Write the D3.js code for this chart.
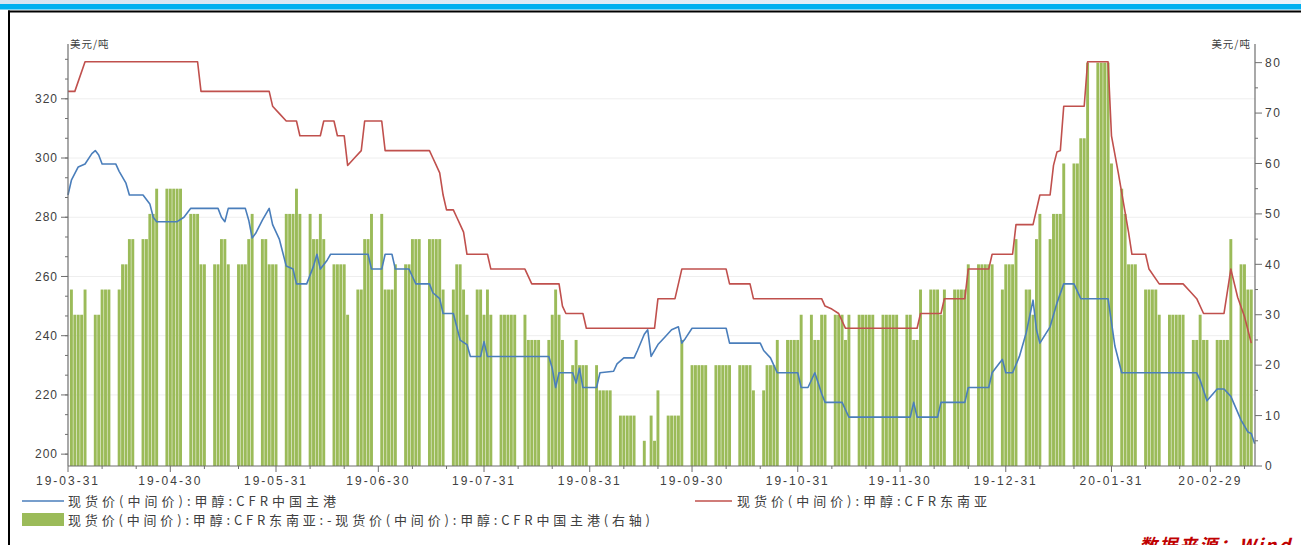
<!DOCTYPE html>
<html><head><meta charset="utf-8">
<script src="https://cdn.jsdelivr.net/npm/d3@7"></script>
<style>
html,body{margin:0;padding:0;background:#fff;}
svg{display:block;}
text{font-family:"Liberation Sans",Arial,sans-serif;}
.cjk{font-family:"Noto Sans CJK SC","Liberation Sans",sans-serif;}
</style></head>
<body>
<svg id="chart" width="1301" height="545"></svg>
<script>
// ---------------- data ----------------
const xTickLabels = ["19-03-31","19-04-30","19-05-31","19-06-30","19-07-31","19-08-31","19-09-30","19-10-31","19-11-30","19-12-31","20-01-31","20-02-29"];
const leftTicks = [200,220,240,260,280,300,320];
const rightTicks = [0,10,20,30,40,50,60,70,80];
const unitLabel = "美元/吨";
const seriesNames = ["现货价(中间价):甲醇:CFR中国主港","现货价(中间价):甲醇:CFR东南亚","现货价(中间价):甲醇:CFR东南亚:-现货价(中间价):甲醇:CFR中国主港(右轴)"];
const sourceText = "数据来源：Wind";

// CFR 东南亚 (red line), breakpoints
const redDates = ["2019-03-31","2019-04-02","2019-04-05","2019-05-08","2019-05-09","2019-05-29","2019-05-30","2019-06-01","2019-06-03","2019-06-06","2019-06-07","2019-06-13","2019-06-14","2019-06-17","2019-06-18","2019-06-20","2019-06-21","2019-06-23","2019-06-25","2019-06-26","2019-07-01","2019-07-02","2019-07-15","2019-07-16","2019-07-17","2019-07-18","2019-07-19","2019-07-20","2019-07-22","2019-07-23","2019-07-24","2019-07-25","2019-07-26","2019-08-01","2019-08-02","2019-08-12","2019-08-14","2019-08-22","2019-08-23","2019-08-24","2019-08-29","2019-08-30","2019-09-19","2019-09-20","2019-09-25","2019-09-27","2019-10-10","2019-10-11","2019-10-17","2019-10-18","2019-11-07","2019-11-08","2019-11-10","2019-11-12","2019-11-14","2019-12-05","2019-12-06","2019-12-12","2019-12-13","2019-12-19","2019-12-20","2019-12-26","2019-12-27","2020-01-02","2020-01-03","2020-01-08","2020-01-10","2020-01-13","2020-01-14","2020-01-15","2020-01-16","2020-01-17","2020-01-23","2020-01-24","2020-01-30","2020-01-31","2020-02-02","2020-02-05","2020-02-06","2020-02-10","2020-02-11","2020-02-14","2020-02-21","2020-02-23","2020-02-25","2020-02-27","2020-03-04","2020-03-06","2020-03-08","2020-03-10","2020-03-12"];
const redValues = [322.5,322.5,332.5,332.5,322.5,322.5,317.5,315,312.5,312.5,307.5,307.5,312.5,312.5,307.5,307.5,297.5,300,302.5,312.5,312.5,302.5,302.5,300,297.5,295,287.5,282.5,282.5,280,277.5,275,267.5,267.5,262.5,262.5,257.5,257.5,250,247.5,247.5,242.5,242.5,252.5,252.5,262.5,262.5,257.5,257.5,252.5,252.5,250,249,247.5,242.5,242.5,247.5,247.5,252.5,252.5,262.5,262.5,267.5,267.5,277.5,277.5,287.5,287.5,297.5,302,302.5,317.5,317.5,332.5,332.5,307.5,295,275,267.5,267.5,262.5,257.5,257.5,255,252.5,247.5,247.5,262.5,253,246.5,237.5];

// CFR 中国主港 (blue line), breakpoints
const blueDates = ["2019-03-31","2019-04-01","2019-04-03","2019-04-05","2019-04-07","2019-04-08","2019-04-09","2019-04-10","2019-04-14","2019-04-15","2019-04-17","2019-04-18","2019-04-22","2019-04-24","2019-04-25","2019-04-26","2019-05-02","2019-05-04","2019-05-06","2019-05-14","2019-05-15","2019-05-16","2019-05-17","2019-05-22","2019-05-23","2019-05-24","2019-05-25","2019-05-27","2019-05-29","2019-05-30","2019-06-01","2019-06-03","2019-06-05","2019-06-06","2019-06-09","2019-06-11","2019-06-12","2019-06-13","2019-06-15","2019-06-16","2019-06-27","2019-06-28","2019-07-01","2019-07-02","2019-07-04","2019-07-05","2019-07-09","2019-07-10","2019-07-11","2019-07-15","2019-07-16","2019-07-18","2019-07-19","2019-07-22","2019-07-23","2019-07-24","2019-07-26","2019-07-27","2019-07-30","2019-07-31","2019-08-01","2019-08-19","2019-08-20","2019-08-21","2019-08-22","2019-08-26","2019-08-27","2019-08-28","2019-08-29","2019-09-02","2019-09-03","2019-09-07","2019-09-08","2019-09-10","2019-09-13","2019-09-14","2019-09-16","2019-09-17","2019-09-18","2019-09-20","2019-09-22","2019-09-24","2019-09-26","2019-09-27","2019-09-28","2019-09-30","2019-10-10","2019-10-11","2019-10-20","2019-10-21","2019-10-23","2019-10-24","2019-10-25","2019-10-31","2019-11-01","2019-11-03","2019-11-05","2019-11-06","2019-11-07","2019-11-08","2019-11-13","2019-11-14","2019-11-15","2019-12-03","2019-12-04","2019-12-05","2019-12-11","2019-12-12","2019-12-19","2019-12-20","2019-12-26","2019-12-27","2019-12-29","2019-12-30","2019-12-31","2020-01-02","2020-01-04","2020-01-06","2020-01-08","2020-01-09","2020-01-10","2020-01-13","2020-01-15","2020-01-17","2020-01-20","2020-01-22","2020-01-30","2020-02-01","2020-02-03","2020-02-25","2020-02-26","2020-02-28","2020-03-02","2020-03-04","2020-03-06","2020-03-09","2020-03-11","2020-03-12","2020-03-13"];
const blueValues = [287.5,292.5,297,298,301.5,302.5,301,298,298,295.5,291.5,287.5,287.5,284.5,280,278.5,278.5,280,283,283,280,278.5,283,283,279,273,274.5,279,283,277.5,272.5,263.5,262.5,257.5,257.5,263.5,267.5,262.5,265.5,267.5,267.5,262.5,262.5,267.5,267.5,262.5,262.5,260,257.5,257.5,254.5,252.5,247.5,247.5,243,238.5,237,233,233,238,233,233,229,222.5,227.5,227.5,224,229,222.5,222.5,227.5,228,230.5,232.5,232.5,235,240.5,242,233,237,239.5,242,243,237.5,239,242.5,242.5,237.5,237.5,235,232.5,230,227.5,227.5,222.5,222.5,227.5,224,220.5,217.5,217.5,215,212.5,212.5,217.5,212.5,212.5,217.5,217.5,222.5,222.5,227.5,230.5,232,227.5,227.5,233,241,252,242,237.5,243,251,257.5,257.5,252.5,252.5,236.5,227.5,227.5,225,218,222,222,219.5,211.5,207.5,207,203.5];

// spread bars (right axis), one row per week (Mon..Fri), first week starting:
const barFirstMonday = "2019-04-01";
const barWeeks = [
 [35,30,30,30,35],[30,30,35,35,35],[35,40,40,45,45],[45,45,50,50,55],[55,55,55,55,55],
 [50,50,50,40,40],[40,40,45,45,40],[40,40,40,45,50],[45,45,40,40,40],[50,50,50,55,50],
 [50,45,45,50,45],[40,40,40,40,30],[35,35,45,45,50],[50,35,35,35,40],[40,40,45,45,45],
 [45,45,45,45,35],[35,40,40,35,30],[35,35,30,35,30],[30,30,30,30,30],[30,25,25,25,25],
 [25,30,35,30,25],[20,25,20,20,20],[20,15,15,15,15],[10,10,10,10,10],[5,0,10,5,15],
 [10,10,10,10,25],[20,20,20,20,20],[20,20,20,20,20],[20,20,20,20,15],[15,20,20,20,25],
 [25,25,25,25,30],[30,25,25,30,30],[30,30,30,25,30],[30,30,30,30,30],[30,30,30,30,30],
 [30,30,25,25,35],[35,35,35,30,35],[35,35,35,35,40],[40,40,40,40,40],[35,40,40,40,45],
 [35,35,30,45,50],[45,50,50,50,60],[60,60,65,65,80],[80,80,80,80,60],[55,50,40,40,40],
 [35,35,35,35,30],[30,30,30,30,30],[25,25,30,25,25],[25,25,25,25,45],[40,40,35,35]
];

// ---------------- drawing ----------------
const parse = d3.utcParse("%Y-%m-%d");
const parseLbl = d3.utcParse("%y-%m-%d");
const svg = d3.select("#chart");
const W = 1301, H = 545;
const plotL = 68, plotR = 1255, plotB = 466;

const x = d3.scaleUtc().domain([parse("2019-03-31"), parse("2020-03-13")]).range([plotL, 1254.7]);
const yL = d3.scaleLinear().domain([196, 338.5]).range([plotB, 44]);
const yR = d3.scaleLinear().domain([0, 83.5]).range([plotB, 45]);
const dayPx = x(parse("2019-04-01")) - x(parse("2019-03-31"));

// page frame decorations
const defs = svg.append("defs");
const g1 = defs.append("linearGradient").attr("id","topfade").attr("x1",0).attr("x2",1).attr("y1",0).attr("y2",0);
g1.append("stop").attr("offset","0%").attr("stop-color","#d6e4f2");
g1.append("stop").attr("offset","100%").attr("stop-color","#eaf2fa");
svg.append("rect").attr("x",0).attr("y",0).attr("width",W).attr("height",4).attr("fill","url(#topfade)");
svg.append("rect").attr("x",0).attr("y",4).attr("width",W).attr("height",5.5).attr("fill","#00b0f0");
svg.append("rect").attr("x",8).attr("y",10.5).attr("width",W-8).attr("height",2).attr("fill","#000");
svg.append("rect").attr("x",8).attr("y",10.5).attr("width",2).attr("height",H-10).attr("fill","#000");

// gridlines
svg.append("g").selectAll("line").data(leftTicks.filter(v => v > 200)).join("line")
  .attr("x1", plotL).attr("x2", plotR).attr("y1", d => yL(d)).attr("y2", d => yL(d))
  .attr("stroke", "#eeeeee").attr("stroke-width", 1);

// bars
const barData = [];
const firstMon = parse(barFirstMonday);
barWeeks.forEach((wk, w) => wk.forEach((v, i) => {
  barData.push({date: d3.utcDay.offset(firstMon, 7 * w + i), v});
}));
svg.append("g").selectAll("rect").data(barData).join("rect")
  .attr("x", d => x(d.date) - dayPx / 2 + 0.25)
  .attr("width", dayPx - 0.5)
  .attr("y", d => yR(d.v))
  .attr("height", d => yR(0) - yR(d.v))
  .attr("fill", "#9bbb59");

// lines
const mk = (ds, vs) => ds.map((d, i) => ({date: parse(d), v: vs[i]}));
const line = d3.line().x(d => x(d.date)).y(d => yL(d.v));
svg.append("path").datum(mk(redDates, redValues)).attr("d", line)
  .attr("fill", "none").attr("stroke", "#c0504d").attr("stroke-width", 1.6).attr("stroke-linejoin","round");
svg.append("path").datum(mk(blueDates, blueValues)).attr("d", line)
  .attr("fill", "none").attr("stroke", "#4a7ebb").attr("stroke-width", 1.6).attr("stroke-linejoin","round");

// axes
const axisColor = "#6f6f6f", labelColor = "#404040";
const ax = svg.append("g");
// left
ax.append("line").attr("x1", plotL).attr("x2", plotL).attr("y1", 44).attr("y2", plotB).attr("stroke", axisColor).attr("stroke-width", 1.2);
const leftMinor = d3.range(200, 336, 20 / 3);
ax.append("g").selectAll("line").data(leftMinor).join("line")
  .attr("x1", plotL - 3).attr("x2", plotL).attr("y1", d => yL(d)).attr("y2", d => yL(d)).attr("stroke", axisColor);
ax.append("g").selectAll("line").data(leftTicks).join("line")
  .attr("x1", plotL - 7).attr("x2", plotL).attr("y1", d => yL(d)).attr("y2", d => yL(d)).attr("stroke", axisColor);
ax.append("g").selectAll("text").data(leftTicks).join("text")
  .attr("x", plotL - 10).attr("y", d => yL(d)).attr("dy", "0.35em").attr("text-anchor", "end")
  .attr("font-size", 12).attr("letter-spacing", 1).attr("fill", labelColor).text(d => d);
// right
ax.append("line").attr("x1", plotR).attr("x2", plotR).attr("y1", 44).attr("y2", plotB).attr("stroke", axisColor).attr("stroke-width", 1.2);
ax.append("g").selectAll("line").data(d3.range(0, 81, 5)).join("line")
  .attr("x1", plotR).attr("x2", d => plotR + (d % 10 === 0 ? 7 : 3)).attr("y1", d => yR(d)).attr("y2", d => yR(d)).attr("stroke", axisColor);
ax.append("g").selectAll("text").data(rightTicks).join("text")
  .attr("x", plotR + 10).attr("y", d => yR(d)).attr("dy", "0.35em").attr("text-anchor", "start")
  .attr("font-size", 12).attr("letter-spacing", 1.5).attr("fill", labelColor).text(d => d);
// bottom
ax.append("line").attr("x1", plotL).attr("x2", plotR).attr("y1", plotB).attr("y2", plotB).attr("stroke", axisColor).attr("stroke-width", 1.2);
const minorDays = d3.utcDays(parse("2019-04-01"), parse("2020-03-13")).filter(d => d.getUTCDate() === 10 || d.getUTCDate() === 20);
ax.append("g").selectAll("line").data(minorDays).join("line")
  .attr("x1", d => x(d)).attr("x2", d => x(d)).attr("y1", plotB).attr("y2", plotB + 3).attr("stroke", axisColor);
ax.append("g").selectAll("line").data(xTickLabels).join("line")
  .attr("x1", d => x(parseLbl(d))).attr("x2", d => x(parseLbl(d))).attr("y1", plotB).attr("y2", plotB + 6).attr("stroke", axisColor);
ax.append("g").selectAll("text").data(xTickLabels).join("text")
  .attr("x", d => x(parseLbl(d))).attr("y", plotB + 19).attr("text-anchor", "middle")
  .attr("font-size", 12).attr("fill", labelColor).attr("letter-spacing", 2).text(d => d);

// unit labels
svg.append("text").attr("class","cjk").attr("x", plotL + 2).attr("y", 48).attr("font-size", 10.5).attr("letter-spacing", 1).attr("fill", "#404040").text(unitLabel);
svg.append("text").attr("class","cjk").attr("x", plotR - 4).attr("y", 48).attr("text-anchor","end").attr("font-size", 10.5).attr("letter-spacing", 1).attr("fill", "#404040").text(unitLabel);

// legend
const lg = svg.append("g");
lg.append("line").attr("x1", 22).attr("x2", 64).attr("y1", 501).attr("y2", 501).attr("stroke", "#4a7ebb").attr("stroke-width", 1.6);
lg.append("text").attr("class","cjk").attr("x", 68).attr("y", 501).attr("dy","0.35em").attr("font-size", 13)
  .attr("textLength", 268).attr("lengthAdjust", "spacing").attr("fill", "#404040").text(seriesNames[0]);
lg.append("line").attr("x1", 695).attr("x2", 732).attr("y1", 501).attr("y2", 501).attr("stroke", "#c0504d").attr("stroke-width", 1.6);
lg.append("text").attr("class","cjk").attr("x", 737).attr("y", 501).attr("dy","0.35em").attr("font-size", 13)
  .attr("textLength", 250).attr("lengthAdjust", "spacing").attr("fill", "#404040").text(seriesNames[1]);
lg.append("rect").attr("x", 22).attr("y", 513).attr("width", 42).attr("height", 13).attr("fill", "#9bbb59");
lg.append("text").attr("class","cjk").attr("x", 68).attr("y", 520).attr("dy","0.35em").attr("font-size", 13)
  .attr("textLength", 582).attr("lengthAdjust", "spacing").attr("fill", "#404040").text(seriesNames[2]);

// source
svg.append("text").attr("class","cjk").attr("x", 1292).attr("y", 552).attr("text-anchor","end")
  .attr("font-size", 18).attr("letter-spacing", 2).attr("font-style","italic").attr("font-weight","bold").attr("fill","#c00000").text(sourceText);
</script>
</body></html>
